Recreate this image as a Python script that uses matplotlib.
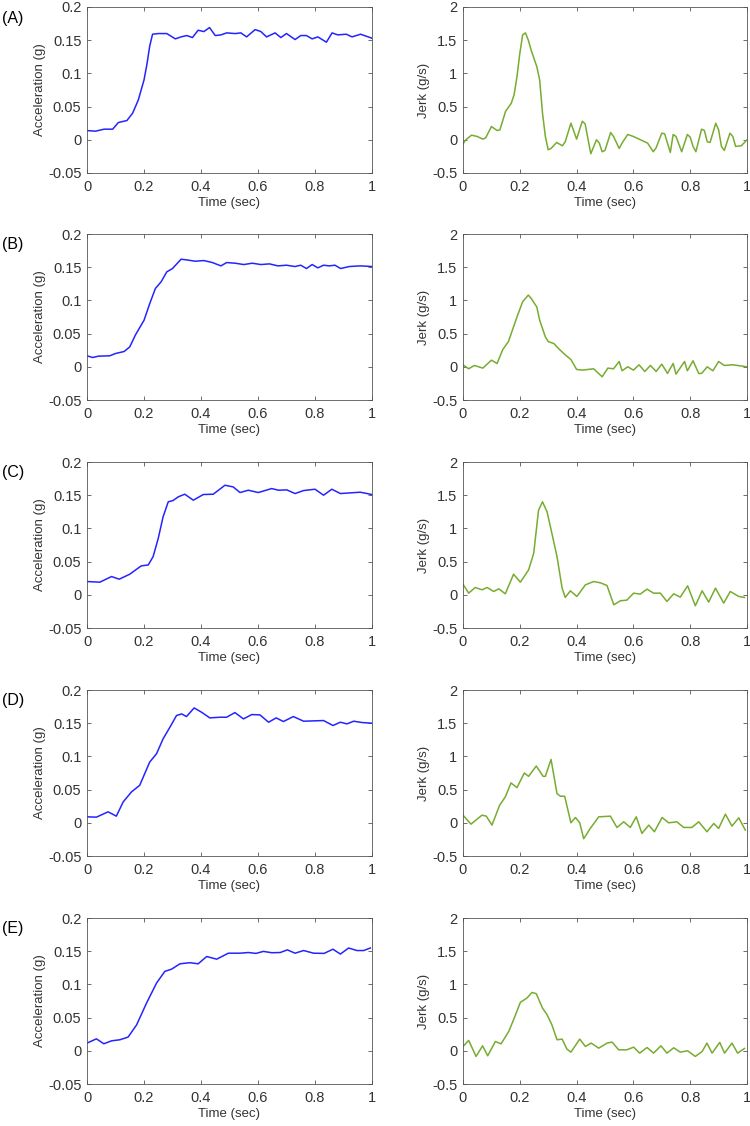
import matplotlib
matplotlib.use("Agg")
import matplotlib.pyplot as plt

plt.rcParams['font.family'] = ['Liberation Sans', 'DejaVu Sans']

# panel (A)
t_acc_a = [0, 0.03, 0.06, 0.09, 0.11, 0.14, 0.16, 0.18, 0.20, 0.21, 0.22, 0.23, 0.25, 0.28,
           0.31, 0.33, 0.35, 0.37, 0.39, 0.41, 0.43, 0.45, 0.47, 0.49, 0.52, 0.54, 0.56, 0.59,
           0.61, 0.63, 0.66, 0.68, 0.70, 0.73, 0.75, 0.77, 0.79, 0.81, 0.84, 0.86, 0.88, 0.91,
           0.93, 0.96, 1.0]
acc_a = [0.0139, 0.013, 0.016, 0.016, 0.026, 0.029, 0.040, 0.060, 0.090, 0.113, 0.141, 0.159,
         0.160, 0.160, 0.152, 0.155, 0.157, 0.154, 0.165, 0.163, 0.169, 0.157, 0.158, 0.161,
         0.160, 0.161, 0.155, 0.166, 0.163, 0.155, 0.161, 0.154, 0.160, 0.151, 0.157, 0.157,
         0.152, 0.155, 0.147, 0.161, 0.158, 0.159, 0.155, 0.159, 0.153]
t_jerk_a = [0, 0.01, 0.03, 0.05, 0.07, 0.08, 0.10, 0.12, 0.13, 0.15, 0.17, 0.18, 0.19, 0.20,
            0.21, 0.22, 0.23, 0.24, 0.26, 0.27, 0.28, 0.29, 0.30, 0.31, 0.33, 0.35, 0.36, 0.38,
            0.40, 0.42, 0.43, 0.45, 0.47, 0.48, 0.49, 0.50, 0.52, 0.53, 0.55, 0.56, 0.58, 0.60,
            0.62, 0.64, 0.65, 0.67, 0.68, 0.70, 0.71, 0.73, 0.74, 0.75, 0.77, 0.79, 0.80, 0.81,
            0.82, 0.84, 0.85, 0.86, 0.87, 0.89, 0.90, 0.91, 0.92, 0.94, 0.95, 0.96, 0.98, 1.0]
jerk_a = [-0.06, 0.0, 0.07, 0.05, 0.01, 0.03, 0.20, 0.14, 0.15, 0.43, 0.55, 0.68, 0.95, 1.30,
          1.58, 1.61, 1.50, 1.35, 1.10, 0.90, 0.40, 0.05, -0.15, -0.13, -0.04, -0.09, -0.03,
          0.25, 0.01, 0.28, 0.24, -0.21, 0.0, -0.05, -0.18, -0.16, 0.11, 0.05, -0.13, -0.05,
          0.08, 0.05, 0.01, -0.03, -0.05, -0.18, -0.12, 0.10, 0.09, -0.19, 0.08, 0.05, -0.18,
          0.08, 0.04, -0.10, -0.18, 0.16, 0.14, -0.03, -0.04, 0.25, 0.15, -0.10, -0.16, 0.10,
          0.05, -0.10, -0.09, 0.0]

# panel (B)
t_acc_b = [0, 0.02, 0.04, 0.08, 0.10, 0.13, 0.15, 0.17, 0.20, 0.22, 0.24, 0.26, 0.28, 0.30,
           0.33, 0.35, 0.38, 0.41, 0.44, 0.47, 0.49, 0.52, 0.55, 0.58, 0.61, 0.64, 0.67, 0.70,
           0.73, 0.75, 0.77, 0.79, 0.81, 0.83, 0.85, 0.87, 0.89, 0.92, 0.96, 1.0]
acc_b = [0.0166, 0.014, 0.016, 0.0166, 0.020, 0.023, 0.030, 0.048, 0.070, 0.095, 0.118, 0.128,
         0.143, 0.148, 0.162, 0.161, 0.159, 0.160, 0.157, 0.152, 0.157, 0.156, 0.154, 0.156,
         0.154, 0.155, 0.152, 0.153, 0.151, 0.153, 0.148, 0.154, 0.149, 0.153, 0.152, 0.153,
         0.148, 0.151, 0.152, 0.151]
t_jerk_b = [0, 0.02, 0.04, 0.07, 0.10, 0.12, 0.14, 0.16, 0.19, 0.21, 0.23, 0.24, 0.26, 0.27,
            0.29, 0.30, 0.32, 0.34, 0.36, 0.38, 0.40, 0.42, 0.46, 0.49, 0.51, 0.53, 0.55, 0.56,
            0.58, 0.60, 0.62, 0.64, 0.66, 0.68, 0.70, 0.72, 0.74, 0.75, 0.78, 0.79, 0.81, 0.83,
            0.84, 0.86, 0.88, 0.90, 0.92, 0.95, 1.0]
jerk_b = [0.03, -0.03, 0.02, -0.02, 0.10, 0.05, 0.26, 0.38, 0.75, 0.98, 1.08, 1.03, 0.90, 0.70,
          0.45, 0.38, 0.35, 0.26, 0.18, 0.11, -0.04, -0.05, -0.03, -0.15, -0.02, -0.03, 0.08,
          -0.06, 0.0, -0.05, 0.03, -0.07, 0.02, -0.07, 0.04, -0.10, 0.05, -0.11, 0.08, -0.06,
          0.09, -0.10, -0.10, 0.0, -0.06, 0.08, 0.02, 0.03, 0.0]

# panel (C)
t_acc_c = [0, 0.045, 0.086, 0.113, 0.15, 0.19, 0.215, 0.232, 0.25, 0.267, 0.285, 0.302, 0.32,
           0.343, 0.373, 0.408, 0.443, 0.484, 0.513, 0.537, 0.566, 0.601, 0.648, 0.672, 0.701,
           0.73, 0.76, 0.80, 0.83, 0.859, 0.889, 0.924, 0.959, 1.0]
acc_c = [0.020, 0.019, 0.0275, 0.0235, 0.031, 0.0435, 0.045, 0.0575, 0.085, 0.1175, 0.140,
         0.142, 0.1475, 0.1515, 0.1425, 0.151, 0.1515, 0.165, 0.1625, 0.154, 0.1575, 0.154,
         0.160, 0.1575, 0.158, 0.1525, 0.157, 0.159, 0.150, 0.159, 0.1525, 0.1535, 0.1545, 0.151]
t_jerk_c = [0, 0.02, 0.043, 0.067, 0.085, 0.108, 0.126, 0.149, 0.178, 0.202, 0.231, 0.249,
            0.266, 0.28, 0.296, 0.313, 0.331, 0.349, 0.36, 0.378, 0.401, 0.431, 0.46, 0.484,
            0.507, 0.531, 0.554, 0.577, 0.601, 0.624, 0.648, 0.671, 0.695, 0.718, 0.742, 0.765,
            0.791, 0.818, 0.842, 0.865, 0.889, 0.918, 0.941, 0.971, 0.991]
jerk_c = [0.16, 0.025, 0.11, 0.075, 0.11, 0.05, 0.09, 0.015, 0.31, 0.19, 0.375, 0.625, 1.275,
          1.40, 1.25, 0.925, 0.575, 0.10, -0.04, 0.06, -0.025, 0.15, 0.20, 0.18, 0.14, -0.15,
          -0.09, -0.08, 0.025, 0.01, 0.085, 0.025, 0.025, -0.10, 0.015, -0.035, 0.135, -0.165,
          0.06, -0.11, 0.10, -0.125, 0.05, -0.025, -0.04]

# panel (D)
t_acc_d = [0, 0.033, 0.074, 0.103, 0.127, 0.156, 0.185, 0.22, 0.244, 0.267, 0.291, 0.314,
           0.332, 0.349, 0.376, 0.402, 0.431, 0.467, 0.49, 0.519, 0.549, 0.578, 0.607, 0.637,
           0.664, 0.689, 0.724, 0.76, 0.795, 0.83, 0.863, 0.889, 0.912, 0.936, 0.965, 1.0]
acc_d = [0.009, 0.0085, 0.0165, 0.010, 0.0315, 0.0465, 0.0565, 0.0915, 0.104, 0.1265, 0.144,
         0.1615, 0.164, 0.160, 0.173, 0.1665, 0.158, 0.159, 0.159, 0.166, 0.1565, 0.163,
         0.1625, 0.1515, 0.158, 0.1525, 0.160, 0.153, 0.1535, 0.154, 0.1465, 0.1515, 0.149,
         0.153, 0.151, 0.150]
t_jerk_d = [0, 0.028, 0.067, 0.082, 0.102, 0.129, 0.149, 0.169, 0.19, 0.216, 0.231, 0.258,
            0.282, 0.29, 0.31, 0.331, 0.343, 0.358, 0.38, 0.396, 0.411, 0.425, 0.448, 0.478,
            0.519, 0.542, 0.566, 0.589, 0.61, 0.63, 0.654, 0.674, 0.701, 0.724, 0.753, 0.777,
            0.806, 0.83, 0.859, 0.883, 0.90, 0.924, 0.947, 0.971, 0.994]
jerk_d = [0.115, -0.02, 0.115, 0.10, -0.035, 0.265, 0.39, 0.60, 0.53, 0.75, 0.70, 0.855, 0.70,
          0.70, 0.955, 0.44, 0.40, 0.40, 0.0, 0.08, 0.0, -0.24, -0.085, 0.09, 0.10, -0.07,
          0.015, -0.07, 0.09, -0.16, -0.035, -0.135, 0.08, 0.0, 0.015, -0.07, -0.07, 0.015,
          -0.135, -0.01, -0.085, 0.13, -0.05, 0.075, -0.11]

# panel (E)
t_acc_e = [0, 0.033, 0.059, 0.086, 0.115, 0.144, 0.174, 0.209, 0.244, 0.273, 0.297, 0.326,
           0.361, 0.39, 0.42, 0.455, 0.496, 0.537, 0.566, 0.593, 0.619, 0.648, 0.678, 0.703,
           0.73, 0.76, 0.795, 0.832, 0.863, 0.889, 0.918, 0.947, 0.971, 0.994]
acc_e = [0.0116, 0.018, 0.0106, 0.015, 0.0166, 0.0206, 0.039, 0.072, 0.102, 0.1196, 0.123,
         0.131, 0.1327, 0.131, 0.142, 0.138, 0.147, 0.147, 0.148, 0.1467, 0.1497, 0.1477,
         0.148, 0.152, 0.147, 0.151, 0.147, 0.1467, 0.153, 0.1457, 0.1548, 0.151, 0.151, 0.1548]
t_jerk_e = [0, 0.02, 0.046, 0.069, 0.087, 0.114, 0.134, 0.161, 0.178, 0.202, 0.225, 0.243,
            0.258, 0.28, 0.296, 0.313, 0.331, 0.349, 0.366, 0.38, 0.411, 0.431, 0.451, 0.478,
            0.507, 0.525, 0.548, 0.577, 0.601, 0.622, 0.648, 0.671, 0.697, 0.718, 0.742, 0.765,
            0.791, 0.818, 0.842, 0.859, 0.877, 0.904, 0.921, 0.947, 0.967, 0.991]
jerk_e = [0.065, 0.156, -0.085, 0.075, -0.075, 0.14, 0.105, 0.29, 0.467, 0.73, 0.794, 0.879,
          0.86, 0.643, 0.543, 0.392, 0.166, 0.176, 0.025, -0.02, 0.176, 0.065, 0.116, 0.04,
          0.116, 0.131, 0.015, 0.015, 0.055, -0.035, 0.05, -0.035, 0.075, -0.035, 0.045, -0.02,
          0.0, -0.085, -0.01, 0.116, -0.035, 0.126, -0.035, 0.116, -0.035, 0.035]

panel_labels = ['(A)', '(B)', '(C)', '(D)', '(E)']
acc_series = [(t_acc_a, acc_a), (t_acc_b, acc_b), (t_acc_c, acc_c), (t_acc_d, acc_d), (t_acc_e, acc_e)]
jerk_series = [(t_jerk_a, jerk_a), (t_jerk_b, jerk_b), (t_jerk_c, jerk_c), (t_jerk_d, jerk_d), (t_jerk_e, jerk_e)]

x_ticks = [0, 0.2, 0.4, 0.6, 0.8, 1]
x_ticklabels = ['0', '0.2', '0.4', '0.6', '0.8', '1']
acc_ticks = [-0.05, 0, 0.05, 0.1, 0.15, 0.2]
acc_ticklabels = ['-0.05', '0', '0.05', '0.1', '0.15', '0.2']
jerk_ticks = [-0.5, 0, 0.5, 1, 1.5, 2]
jerk_ticklabels = ['-0.5', '0', '0.5', '1', '1.5', '2']

W, H = 750, 1126
fig = plt.figure(figsize=(W / 100, H / 100), dpi=100)

tops = [7, 234, 462, 690, 918]
ax_h = 166
dark = '#333333'


def style_axes(ax, yticks, yticklabels, ylim):
    ax.set_xlim(0, 1)
    ax.set_ylim(*ylim)
    ax.set_xticks(x_ticks)
    ax.set_xticklabels(x_ticklabels)
    ax.set_yticks(yticks)
    ax.set_yticklabels(yticklabels)
    ax.tick_params(direction='in', length=3, width=0.5, top=True, right=True,
                   labelsize=10.5, colors=dark)
    ax.tick_params(axis='x', pad=5)
    ax.tick_params(axis='y', pad=4)
    for s in ax.spines.values():
        s.set_linewidth(0.6)
        s.set_color('#555555')
    ax.set_xlabel('Time (sec)', fontsize=9.5, color=dark, labelpad=2)


for i in range(5):
    bottom = 1 - (tops[i] + ax_h) / H
    ax1 = fig.add_axes([87 / W, bottom, 285 / W, ax_h / H])
    t, v = acc_series[i]
    ax1.plot(t, v, color='#2424ff', lw=1.1)
    style_axes(ax1, acc_ticks, acc_ticklabels, (-0.05, 0.2))
    ax1.set_ylabel('Acceleration (g)', fontsize=9.5, color=dark, labelpad=1.5)
    fig.text(2 / W, 1 - (tops[i] + 11) / H, panel_labels[i], fontsize=11.5,
             ha='left', va='center', color='black')

    ax2 = fig.add_axes([463 / W, bottom, 284 / W, ax_h / H])
    t, v = jerk_series[i]
    ax2.plot(t, v, color='#77ac30', lw=1.1)
    style_axes(ax2, jerk_ticks, jerk_ticklabels, (-0.5, 2))
    ax2.set_ylabel('Jerk (g/s)', fontsize=9.5, color=dark, labelpad=1.5)

fig.savefig('out.png', dpi=100)
